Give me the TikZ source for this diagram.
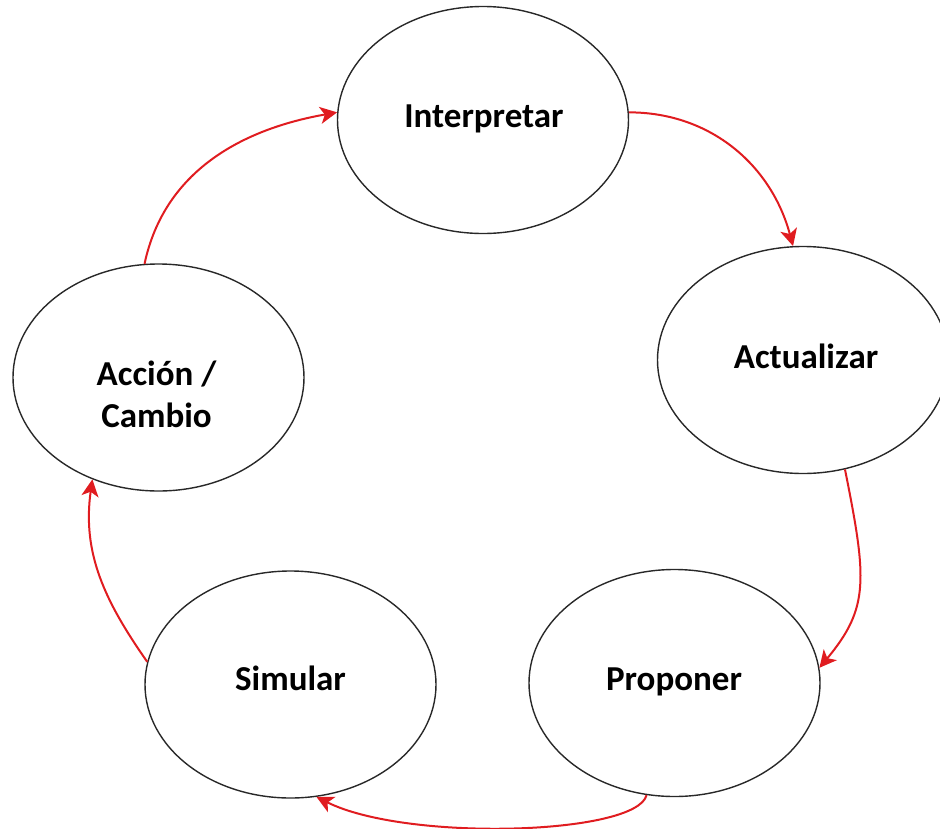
\documentclass[tikz,border=0pt]{standalone}
\usepackage{fontspec}
\setmainfont{Carlito}
\usetikzlibrary{shapes.geometric,arrows.meta}
\definecolor{arrred}{RGB}{224,28,32}
\definecolor{edgegray}{RGB}{40,40,40}
\tikzset{
  bubble/.style={draw=edgegray,line width=1.4pt,ellipse,minimum width=291pt,minimum height=227pt,inner sep=0pt},
  lbl/.style={font=\fontsize{35}{42}\selectfont\bfseries,text=black,inner sep=0pt,anchor=base,align=center},
  arr/.style={draw=arrred,line width=2pt,-{Stealth[length=17pt,width=17pt,inset=4.5pt]}}
}
\begin{document}
\begin{tikzpicture}[x=1pt,y=-1pt]
\useasboundingbox (0,0) rectangle (940,828);
\node[bubble] (interp) at (483,120) {};
\node[bubble] (actual) at (803,360) {};
\node[bubble] (accion) at (158.5,377.5) {};
\node[bubble] (simular) at (290.5,684.5) {};
\node[bubble] (proponer) at (674.5,683) {};
\node[lbl] (tinterp) at (484,127) {Interpretar};
\node[lbl] (tactual) at (806,368) {Actualizar};
\node[lbl] (taccion) at (156.5,427) {Acción /\\Cambio};
\node[lbl] (tsimular) at (290.5,690) {Simular};
\node[lbl] (tproponer) at (674,690) {Proponer};
\draw[arr] (accion.97) to[out=78,in=190] (interp.177);
\draw[arr] (interp.3) to[out=0,in=105] (actual.95);
\draw[arr] (actual.291) .. controls +(22,110) and +(50,-60) .. (proponer.6);
\draw[arr] (proponer.256) .. controls +(-10,40) and +(90,45) .. (simular.283);
\draw[arr] (simular.171) to[out=125,in=262] (accion.237);
\end{tikzpicture}
\end{document}
